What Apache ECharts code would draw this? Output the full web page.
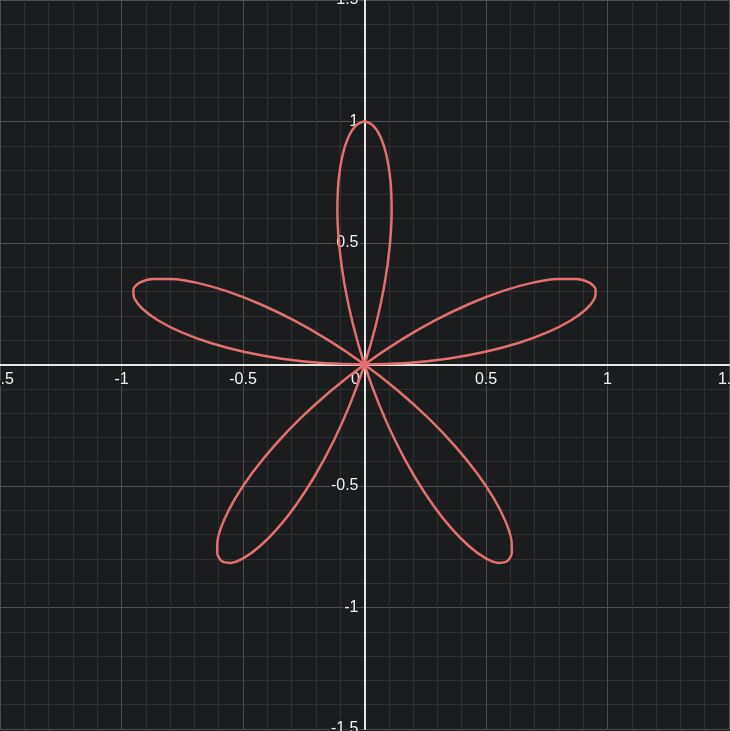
<!DOCTYPE html>
<html>
<head>
<meta charset="utf-8">
<script src="https://cdn.jsdelivr.net/npm/echarts@6/dist/echarts.min.js"></script>
<style>
html,body{margin:0;padding:0;background:#1b1c1e;}
#c{width:730px;height:731px;}
</style>
</head>
<body>
<div id="c"></div>
<script>
// Rose curve points (x, y)
const curveX = [0, 0.1735, 0.3412, 0.4973, 0.6366, 0.7544, 0.8471, 0.9118, 0.9467, 0.9511, 0.9254, 0.8713, 0.7911, 0.6885, 0.5675, 0.4330, 0.2900, 0.1439,
  0, -0.1368, -0.2620, -0.3716, -0.4624, -0.5321, -0.5794, -0.6040, -0.6063, -0.5878, -0.5507, -0.4980, -0.4330, -0.3596, -0.2818, -0.2034, -0.1281, -0.0594,
  0, 0.0478, 0.0827, 0.1040, 0.1116, 0.1066, 0.0905, 0.0656, 0.0344, 0, -0.0344, -0.0656, -0.0905, -0.1066, -0.1116, -0.1040, -0.0827, -0.0478,
  0, 0.0594, 0.1281, 0.2034, 0.2818, 0.3596, 0.4330, 0.4980, 0.5507, 0.5878, 0.6063, 0.6040, 0.5794, 0.5321, 0.4624, 0.3716, 0.2620, 0.1368,
  0, -0.1439, -0.2900, -0.4330, -0.5675, -0.6885, -0.7911, -0.8713, -0.9254, -0.9511, -0.9467, -0.9118, -0.8471, -0.7544, -0.6366, -0.4973, -0.3412, -0.1735, 0];
const curveY = [0, 0.0061, 0.0239, 0.0523, 0.0895, 0.1330, 0.1800, 0.2273, 0.2714, 0.3090, 0.3368, 0.3520, 0.3522, 0.3358, 0.3018, 0.25, 0.1812, 0.0971,
  0, -0.1069, -0.2198, -0.3346, -0.4466, -0.5510, -0.6435, -0.7198, -0.7760, -0.8090, -0.8164, -0.7969, -0.75, -0.6763, -0.5778, -0.4568, -0.3171, -0.1631,
  0, 0.1669, 0.3318, 0.4891, 0.6330, 0.7586, 0.8612, 0.9374, 0.9842, 1, 0.9842, 0.9374, 0.8612, 0.7586, 0.6330, 0.4891, 0.3318, 0.1669,
  0, -0.1631, -0.3171, -0.4568, -0.5778, -0.6763, -0.75, -0.7969, -0.8164, -0.8090, -0.7760, -0.7198, -0.6435, -0.5510, -0.4466, -0.3346, -0.2198, -0.1069,
  0, 0.0971, 0.1812, 0.25, 0.3018, 0.3358, 0.3522, 0.3520, 0.3368, 0.3090, 0.2714, 0.2273, 0.1800, 0.1330, 0.0895, 0.0523, 0.0239, 0.0061, 0];
const axisMin = -1.5;
const axisMax = 1.5;
const tickStep = 0.5;

const pts = curveX.map((x, i) => [x, curveY[i]]);
const chart = echarts.init(document.getElementById('c'));

const labelStyle = {
  color: '#f2f2f2',
  fontSize: 16,
  fontFamily: 'Liberation Sans, Arial, sans-serif',
  textBorderColor: '#1b1c1e',
  textBorderWidth: 3
};

const W = 729, H = 729;

function axisCommon(off) {
  return {
    type: 'value',
    min: axisMin,
    max: axisMax,
    interval: tickStep,
    offset: off,
    axisLine: { onZero: false, lineStyle: { color: '#e6e6e6', width: 2 } },
    axisTick: { show: false },
    splitLine: { show: true, lineStyle: { color: '#4e4f52', width: 1 } },
    minorTick: { show: false, splitNumber: 5 },
    minorSplitLine: { show: true, lineStyle: { color: '#2f3033', width: 1 } },
    z: 1
  };
}

const xa = axisCommon(-H / 2);
xa.position = 'bottom';
xa.axisLabel = Object.assign({}, labelStyle, {
  margin: 7,
  showMinLabel: true, showMaxLabel: true,
  formatter: v => v === 0 ? '{z|0}' : String(v),
  rich: { z: Object.assign({}, labelStyle, { padding: [0, 18, 0, 0] }) }
});
const ya = axisCommon(-W / 2);
ya.position = 'left';
ya.axisLabel = Object.assign({}, labelStyle, {
  margin: 6,
  showMinLabel: true, showMaxLabel: true,
  formatter: v => v === 0 ? '' : String(v)
});

chart.setOption({
  backgroundColor: '#1b1c1e',
  animation: false,
  grid: { left: 0, top: 0, width: W, height: H, containLabel: false, outerBoundsMode: 'none' },
  xAxis: xa,
  yAxis: ya,
  series: [{
    type: 'line',
    data: pts,
    smooth: 0.25,
    showSymbol: false,
    lineStyle: { color: '#e46f6f', width: 2.5 },
    z: 5,
    clip: false
  }]
});
</script>
</body>
</html>
